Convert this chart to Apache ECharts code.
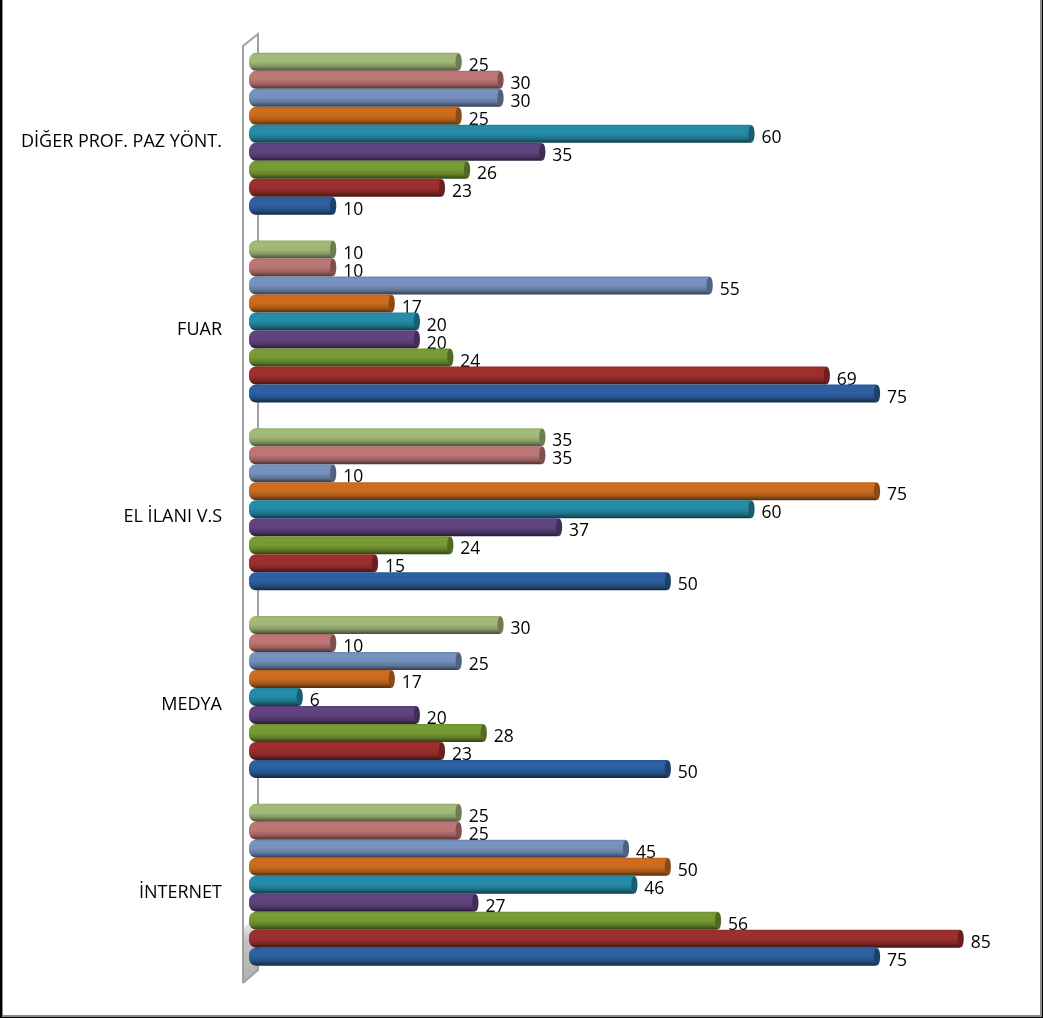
<!DOCTYPE html>
<html>
<head>
<meta charset="utf-8">
<style>
html,body{margin:0;padding:0;background:#fff;width:1043px;height:1018px;overflow:hidden}
#chart{position:absolute;left:0;top:0;width:1043px;height:1018px}
#f1{position:absolute;left:0;top:0;width:1043px;height:1018px;box-sizing:border-box;border-style:solid;border-color:#000;border-width:0 1px 1px 2px;pointer-events:none}
#f2{width:100%;height:100%;box-sizing:border-box;border-style:solid;border-color:#8a8a8a;border-width:0 2px 2px 1px}
</style>
<script src="https://cdn.jsdelivr.net/npm/echarts@6/dist/echarts.min.js"></script>
</head>
<body>
<div id="chart"></div>
<div id="f1"><div id="f2"></div></div>
<script>
var categories = ['İNTERNET', 'MEDYA', 'EL İLANI V.S', 'FUAR', 'DİĞER PROF. PAZ YÖNT.'];
var series1 = [75, 50, 50, 75, 10];
var series2 = [85, 23, 15, 69, 23];
var series3 = [56, 28, 24, 24, 26];
var series4 = [27, 20, 37, 20, 35];
var series5 = [46, 6, 60, 20, 60];
var series6 = [50, 17, 75, 17, 25];
var series7 = [45, 25, 10, 55, 30];
var series8 = [25, 10, 35, 10, 30];
var series9 = [25, 30, 35, 10, 25];
var allSeries = [series1, series2, series3, series4, series5, series6, series7, series8, series9];
var colors = ['#2C5F9E', '#9B2F2D', '#759A33', '#5F437F', '#258AA5', '#CB6B1F', '#7590BC', '#BB7574', '#A0B777'];

var BAR = 18, N = allSeries.length;

function shade(hex, k) {
  var n = parseInt(hex.slice(1), 16);
  var c = [(n >> 16) & 255, (n >> 8) & 255, n & 255].map(function (v) {
    return Math.round(Math.min(255, v * k));
  });
  return 'rgb(' + c.join(',') + ')';
}
function cylinder(hex) {
  return new echarts.graphic.LinearGradient(0, 0, 0, 1, [
    { offset: 0, color: shade(hex, 0.92) },
    { offset: 0.12, color: shade(hex, 1.02) },
    { offset: 0.5, color: shade(hex, 1) },
    { offset: 0.75, color: shade(hex, 0.82) },
    { offset: 1, color: shade(hex, 0.42) }
  ]);
}

// ECharts places the first bar series at the top of a horizontal band, so add them last-to-first.
var barSeries = allSeries.map(function (vals, i) {
  return {
    type: 'bar',
    name: 'Seri ' + (i + 1),
    data: vals,
    z: 30 - i,
    barWidth: BAR,
    barGap: 0,
    itemStyle: { color: cylinder(colors[i]), borderRadius: [7, 0, 0, 7] },
    label: {
      show: true,
      position: 'right',
      distance: 9,
      offset: [1.5, 4],
      color: '#000',
      fontFamily: 'Open Sans',
      fontSize: 17.5
    }
  };
}).reverse();

var capData = [];
allSeries.forEach(function (vals, s) {
  vals.forEach(function (v, c) { capData.push([v, c, s]); });
});

var capSeries = {
  type: 'custom',
  silent: true,
  z: 40,
  clip: false,
  encode: { x: 0, y: 1 },
  data: capData,
  renderItem: function (params, api) {
    var p = api.coord([api.value(0), api.value(1)]);
    var s = api.value(2);
    return {
      type: 'ellipse',
      shape: { cx: p[0] + 0.5, cy: p[1] - (s - (N - 1) / 2) * BAR, rx: 3.1, ry: BAR / 2 - 0.3 },
      style: { fill: shade(colors[s], 0.68) }
    };
  }
};

var wallSeries = {
  type: 'custom',
  silent: true,
  z: 1,
  clip: false,
  encode: { x: 0, y: 1 },
  data: [[0, 0]],
  renderItem: function (params, api) {
    var p = api.coord([0, 0]);
    var band = api.size([0, 1])[1];
    var xL = p[0] - 6, xR = p[0] + 9;
    var bottom = p[1] + band / 2;
    var yTopL = bottom - band * 5 + 6, yTopR = yTopL - 12;
    var yBotL = bottom + 4.5, yBotR = bottom - 8.5;
    return {
      type: 'group',
      children: [
        {
          type: 'polygon',
          shape: { points: [[xL, yBotL - 55], [xR, yBotR - 55], [xR, yBotR], [xL, yBotL]] },
          style: {
            fill: new echarts.graphic.LinearGradient(0, 0, 0, 1, [
              { offset: 0, color: '#ffffff' },
              { offset: 0.35, color: '#c4c4c4' },
              { offset: 1, color: '#b0b0b0' }
            ])
          }
        },
        {
          type: 'polyline',
          shape: { points: [[xL, yBotL], [xL, yTopL], [xR, yTopR], [xR, yBotR], [xL, yBotL]] },
          style: { fill: null, stroke: '#a0a0a0', lineWidth: 2 }
        }
      ]
    };
  }
};

var chart = echarts.init(document.getElementById('chart'), null, { renderer: 'canvas' });
chart.setOption({
  animation: false,
  backgroundColor: 'transparent',
  grid: { left: 249, top: 40, width: 753, height: 938.5, containLabel: false },
  xAxis: { type: 'value', min: 0, max: 90, show: false },
  yAxis: {
    type: 'category',
    data: categories,
    axisLine: { show: false },
    axisTick: { show: false },
    splitLine: { show: false },
    axisLabel: {
      margin: 27,
      color: '#000',
      fontFamily: 'Open Sans',
      fontSize: 18,
      verticalAlign: 'top',
      lineHeight: 16
    }
  },
  series: [wallSeries].concat(barSeries, [capSeries])
});
</script>
</body>
</html>
